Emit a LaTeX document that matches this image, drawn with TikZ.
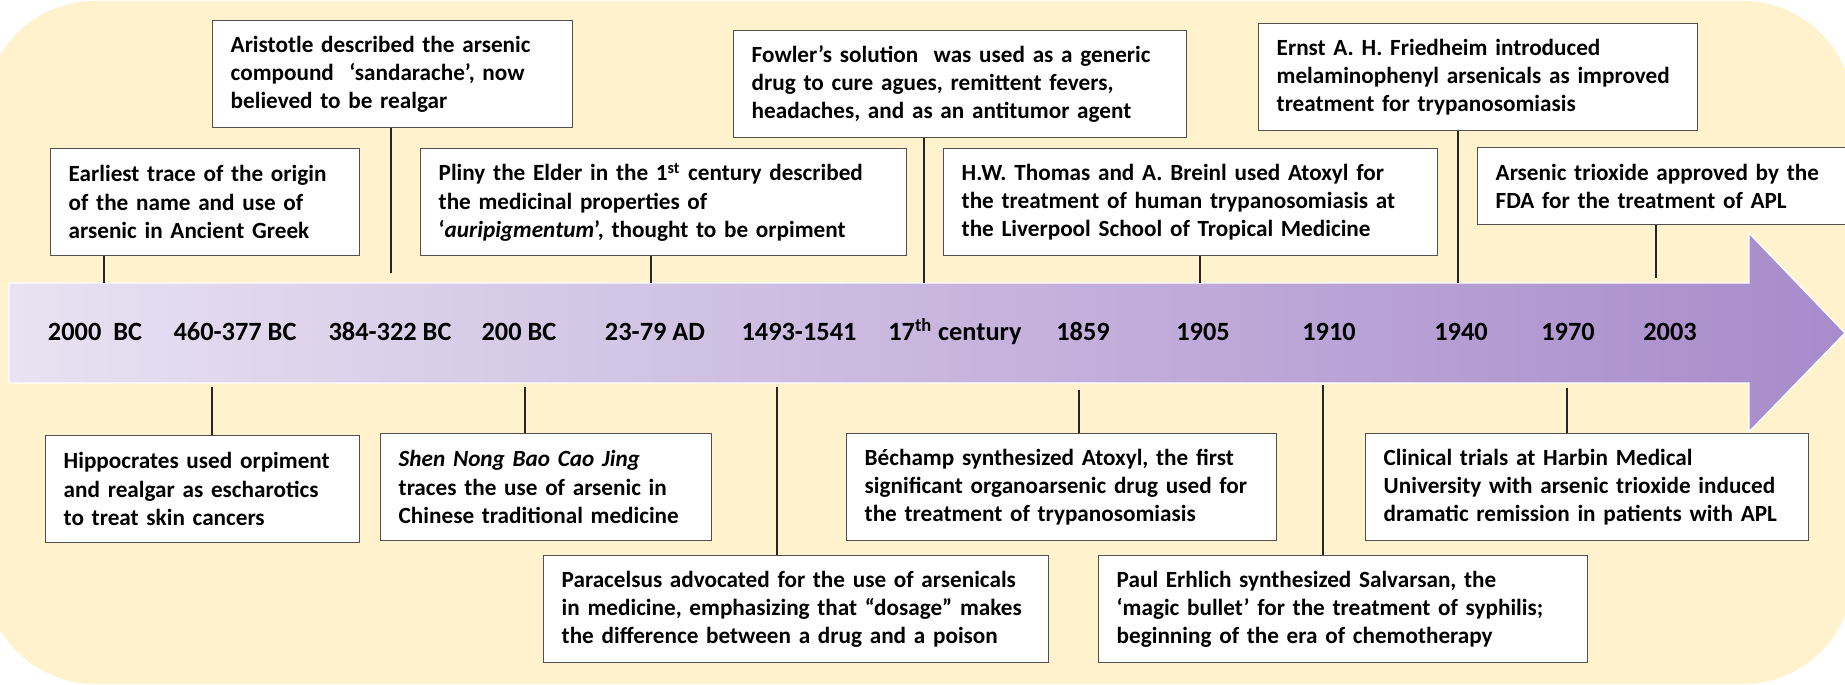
\documentclass[tikz,border=0pt]{standalone}
\usepackage{fontspec}
\setmainfont{Carlito}
\usetikzlibrary{positioning}
\definecolor{bgCream}{RGB}{255, 242, 204}
\definecolor{arrowLeft}{RGB}{232, 226, 242}
\definecolor{arrowRight}{RGB}{168, 139, 203}
\definecolor{boxBorder}{RGB}{80, 80, 80}

\begin{document}
\begin{tikzpicture}[
        x=0.02cm, y=-0.02cm,
        eventbox/.style={draw=boxBorder, line width=0.8pt, fill=white, anchor=north west,
            align=left, inner xsep=0.36cm, inner ysep=0.1cm, minimum height=2.14cm,
            font=\fontsize{13.2}{16.1}\selectfont\bfseries},
        yearlabel/.style={font=\fontsize{15}{18}\selectfont\bfseries, inner sep=0pt},
    ]
    \useasboundingbox (0,0) rectangle (1845,685);
    \fill[bgCream, rounded corners=2.2cm] (-15,1) rectangle (1853,684);

    % timeline arrow
    \path[left color=arrowLeft, right color=arrowRight, draw=white, line width=0.8pt]
        (9,283) -- (1749,283) -- (1749,233) -- (1845,333) -- (1749,432) -- (1749,383) -- (9,383) -- cycle;

    \begin{scope}
        \node[yearlabel] (yr_2000bc) at (95,332) {2000~~BC};
        \node[yearlabel] (yr_460bc) at (235,332) {460-377 BC};
        \node[yearlabel] (yr_384bc) at (390,332) {384-322 BC};
        \node[yearlabel] (yr_200bc) at (519,332) {200 BC};
        \node[yearlabel] (yr_23ad) at (655,332) {23-79 AD};
        \node[yearlabel] (yr_1493) at (799,332) {1493-1541};
        \node[yearlabel] (yr_17c) at (955,332) {17\textsuperscript{th} century};
        \node[yearlabel] (yr_1859) at (1083,332) {1859};
        \node[yearlabel] (yr_1905) at (1203,332) {1905};
        \node[yearlabel] (yr_1910) at (1329,332) {1910};
        \node[yearlabel] (yr_1940) at (1461,332) {1940};
        \node[yearlabel] (yr_1970) at (1568,332) {1970};
        \node[yearlabel] (yr_2003) at (1670,332) {2003};
    \end{scope}

    \begin{scope}
        % above the arrow
        \node[eventbox, text width=5.46cm] (ev_earliest) at (50,148) {Earliest trace of the origin\\of the name and use of\\arsenic in Ancient Greek};
        \node[eventbox, text width=6.48cm] (ev_aristotle) at (212,20) {Aristotle described the arsenic\\compound~~‘sandarache’, now\\believed to be realgar};
        \node[eventbox, text width=9.00cm] (ev_pliny) at (420,148) {Pliny the Elder in the 1\textsuperscript{st} century described\\the medicinal properties of\\‘\textit{auripigmentum}’, thought to be orpiment};
        \node[eventbox, text width=8.34cm] (ev_fowler) at (733,30) {Fowler’s solution~~was used as a generic\\drug to cure agues, remittent fevers,\\headaches, and as an antitumor agent};
        \node[eventbox, text width=9.16cm] (ev_thomas) at (943,148) {H.W. Thomas and A. Breinl used Atoxyl for\\the treatment of human trypanosomiasis at\\the Liverpool School of Tropical Medicine};
        \node[eventbox, text width=8.06cm] (ev_friedheim) at (1258,23) {Ernst A. H. Friedheim introduced\\melaminophenyl arsenicals as improved\\treatment for trypanosomiasis};
        \node[eventbox, text width=6.74cm, minimum height=1.54cm] (ev_fda) at (1477,147) {Arsenic trioxide approved by the\\FDA for the treatment of APL};

        % below the arrow
        \node[eventbox, text width=5.56cm] (ev_hippocrates) at (45,435) {Hippocrates used orpiment\\and realgar as escharotics\\to treat skin cancers};
        \node[eventbox, text width=5.90cm] (ev_shennong) at (380,433) {\textit{Shen Nong Bao Cao Jing}\\traces the use of arsenic in\\Chinese traditional medicine};
        \node[eventbox, text width=9.38cm] (ev_paracelsus) at (543,555) {Paracelsus advocated for the use of arsenicals\\in medicine, emphasizing that “dosage” makes\\the difference between a drug and a poison};
        \node[eventbox, text width=7.88cm] (ev_bechamp) at (846,433) {Béchamp synthesized Atoxyl, the first\\significant organoarsenic drug used for\\the treatment of trypanosomiasis};
        \node[eventbox, text width=9.06cm] (ev_ehrlich) at (1098,555) {Paul Erhlich synthesized Salvarsan, the\\‘magic bullet’ for the treatment of syphilis;\\beginning of the era of chemotherapy};
        \node[eventbox, text width=8.14cm] (ev_clinical) at (1365,433) {Clinical trials at Harbin Medical\\University with arsenic trioxide induced\\dramatic remission in patients with APL};
    \end{scope}

    \coordinate (tk_earliest) at (104,283);
    \coordinate (tk_aristotle) at (391,273);
    \coordinate (tk_pliny) at (651,283);
    \coordinate (tk_fowler) at (924,283);
    \coordinate (tk_thomas) at (1200,283);
    \coordinate (tk_friedheim) at (1458,283);
    \coordinate (tk_fda) at (1656,278);
    \coordinate (tk_hippocrates) at (212,387);
    \coordinate (tk_shennong) at (525,387);
    \coordinate (tk_paracelsus) at (777,387);
    \coordinate (tk_bechamp) at (1079,390);
    \coordinate (tk_ehrlich) at (1323,385);
    \coordinate (tk_clinical) at (1567,388);

    \begin{scope}[every edge/.style={draw=black!85, line width=1.1pt}]
        \path (ev_earliest.south -| tk_earliest) edge (tk_earliest);
        \path (ev_aristotle.south -| tk_aristotle) edge (tk_aristotle);
        \path (ev_pliny.south -| tk_pliny) edge (tk_pliny);
        \path (ev_fowler.south -| tk_fowler) edge (tk_fowler);
        \path (ev_thomas.south -| tk_thomas) edge (tk_thomas);
        \path (ev_friedheim.south -| tk_friedheim) edge (tk_friedheim);
        \path (ev_fda.south -| tk_fda) edge (tk_fda);

        \path (tk_hippocrates) edge (ev_hippocrates.north -| tk_hippocrates);
        \path (tk_shennong) edge (ev_shennong.north -| tk_shennong);
        \path (tk_paracelsus) edge (ev_paracelsus.north -| tk_paracelsus);
        \path (tk_bechamp) edge (ev_bechamp.north -| tk_bechamp);
        \path (tk_ehrlich) edge (ev_ehrlich.north -| tk_ehrlich);
        \path (tk_clinical) edge (ev_clinical.north -| tk_clinical);
    \end{scope}
\end{tikzpicture}
\end{document}
